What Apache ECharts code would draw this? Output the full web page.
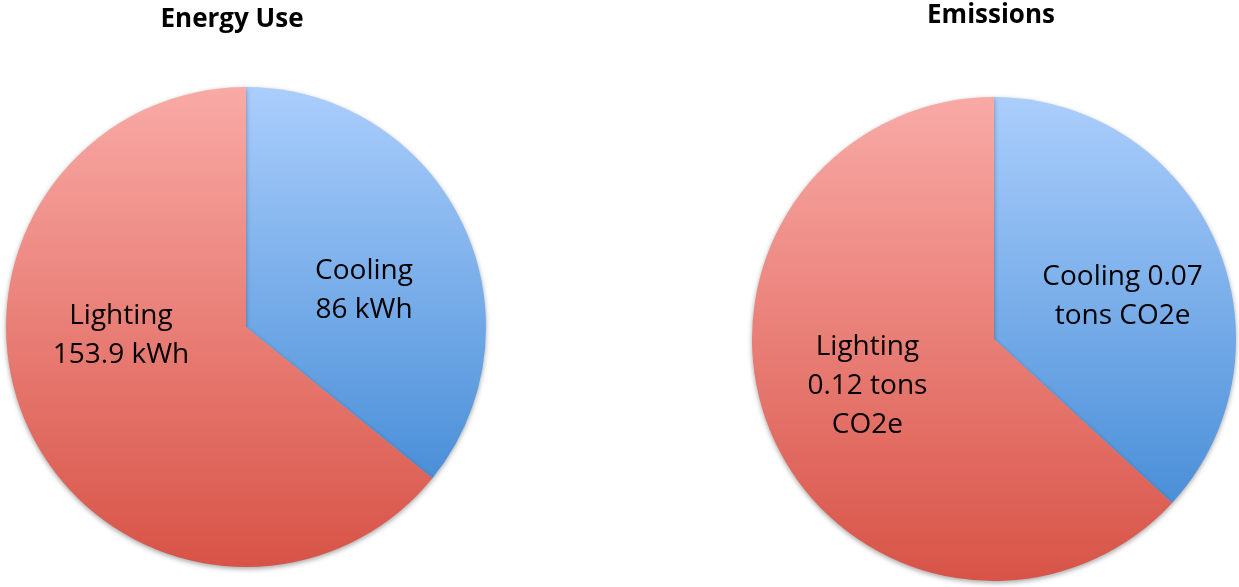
<!DOCTYPE html>
<html>
<head>
<meta charset="utf-8">
<script src="https://cdn.jsdelivr.net/npm/echarts@6/dist/echarts.min.js"></script>
<style>
  html, body { margin: 0; padding: 0; background: #ffffff; }
  #chart { width: 1239px; height: 587px; }
</style>
</head>
<body>
<div id="chart"></div>
<script>
// Data
const categories = ['Cooling', 'Lighting'];
const energyValues = [86, 153.9];      // kWh
const emissionValues = [0.07, 0.12];   // tons CO2e
const chartTitles = ['Energy Use', 'Emissions'];

// Styling
const FONT = '"Open Sans", "Liberation Sans", sans-serif';
const sliceColors = [
  { top: '#abcefc', bottom: '#4a8fd8' },   // Cooling
  { top: '#f9aaa6', bottom: '#d85347' }    // Lighting
];

function gradient(c) {
  return new echarts.graphic.LinearGradient(0, 0, 0, 1, [
    { offset: 0, color: c.top },
    { offset: 1, color: c.bottom }
  ]);
}

function buildPie(values, center, radius, labelOpts) {
  return {
    type: 'pie',
    center: center,
    radius: radius,
    startAngle: 90,
    clockwise: true,
    silent: true,
    avoidLabelOverlap: false,
    data: categories.map((name, i) => ({
      name: name,
      value: values[i],
      itemStyle: {
        color: gradient(sliceColors[i]),
        shadowBlur: 5,
        shadowOffsetY: 2,
        shadowColor: 'rgba(0,0,0,0.35)'
      },
      label: Object.assign({
        show: true,
        position: 'inside',
        color: '#000',
        fontFamily: FONT,
        fontSize: 28,
        lineHeight: 39,
        align: 'center'
      }, labelOpts[i])
    })),
    labelLine: { show: false }
  };
}

const energySeries = buildPie(energyValues, [246, 327], 240, [
  { offset: [7, 16], formatter: p => p.name + '\n' + p.value + ' kWh' },
  { offset: [-14, -44], formatter: p => p.name + '\n' + p.value + ' kWh' }
]);

const emissionSeries = buildPie(emissionValues, [994, 339], 242, [
  { offset: [15, 7], formatter: p => p.name + ' ' + p.value + '\ntons CO2e' },
  { offset: [-13, -3], formatter: p => p.name + '\n' + p.value + ' tons\nCO2e' }
]);

const chart = echarts.init(document.getElementById('chart'), null, { renderer: 'canvas' });
chart.setOption({
  animation: false,
  backgroundColor: '#ffffff',
  title: [
    {
      text: chartTitles[0], left: 227, top: 2, textAlign: 'center',
      textStyle: { fontFamily: FONT, fontWeight: 'bold', fontSize: 26, color: '#000' }
    },
    {
      text: chartTitles[1], left: 986, top: -2, textAlign: 'center',
      textStyle: { fontFamily: FONT, fontWeight: 'bold', fontSize: 26, color: '#000' }
    }
  ],
  series: [energySeries, emissionSeries]
});
</script>
</body>
</html>
